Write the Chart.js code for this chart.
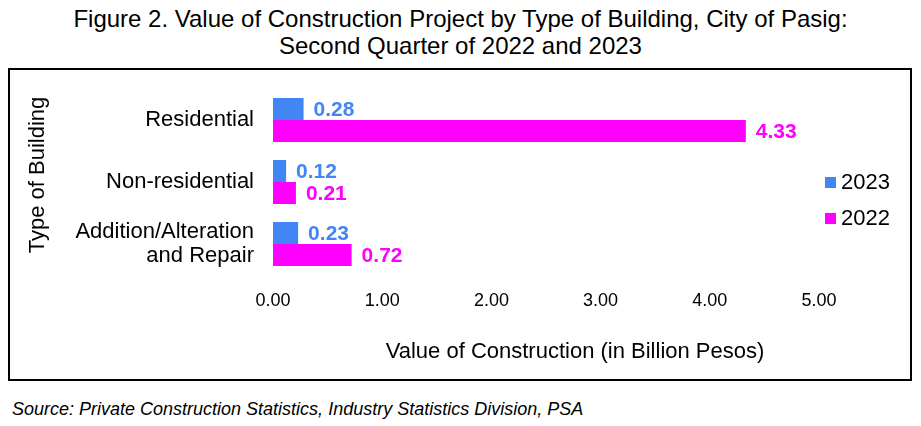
<!DOCTYPE html>
<html>
<head>
<meta charset="utf-8">
<script src="https://cdn.jsdelivr.net/npm/chart.js@4"></script>
<style>
html,body{margin:0;padding:0;width:921px;height:426px;background:#fff;overflow:hidden;font-family:'Liberation Sans',Arial,sans-serif;}
#title{position:absolute;left:0;top:5px;width:921px;text-align:center;font-size:24px;line-height:27px;color:#000;}
#box{position:absolute;left:8px;top:68px;width:900px;height:309px;border:2px solid #000;}
#src{position:absolute;left:12px;top:399px;font-size:18px;font-style:italic;color:#000;}
#c{position:absolute;left:0;top:0;}
</style>
</head>
<body>
<div id="title">Figure 2. Value of Construction Project by Type of Building, City of Pasig:<br>Second Quarter of 2022 and 2023</div>
<div id="box"></div>
<div id="src">Source: Private Construction Statistics, Industry Statistics Division, PSA</div>
<canvas id="c" width="921" height="426"></canvas>
<script>
const categories = ['Residential', 'Non-residential', ['Addition/Alteration', 'and Repair']];
const seriesNames = ['2023', '2022'];
const values2023 = [0.28, 0.12, 0.23];
const values2022 = [4.33, 0.21, 0.72];
const xTicks = [0, 1, 2, 3, 4, 5];
const colors = ['#4285F4', '#FF00FF'];
const FONT = "'Liberation Sans', Arial, sans-serif";

const overlay = {
  id: 'overlay',
  afterDatasetsDraw(chart) {
    const ctx = chart.ctx;
    ctx.save();
    ctx.font = 'bold 21px ' + FONT;
    ctx.textBaseline = 'middle';
    ctx.textAlign = 'left';
    chart.data.datasets.forEach((ds, i) => {
      const meta = chart.getDatasetMeta(i);
      meta.data.forEach((bar, j) => {
        ctx.fillStyle = colors[i];
        ctx.fillText(ds.data[j].toFixed(2), bar.x + 10, bar.y + 1);
      });
    });
    ctx.restore();
  },
  afterDraw(chart) {
    const ctx = chart.ctx;
    const ca = chart.chartArea;
    ctx.save();
    ctx.fillStyle = '#000';
    ctx.font = '22px ' + FONT;
    ctx.textAlign = 'center';
    ctx.textBaseline = 'middle';
    // x axis title
    ctx.fillText('Value of Construction (in Billion Pesos)', ca.left + (ca.right - ca.left) / 2 + 29, ca.bottom + 77);
    // y axis title
    ctx.save();
    ctx.translate(38, (ca.top + ca.bottom) / 2 - 7);
    ctx.rotate(-Math.PI / 2);
    ctx.fillText('Type of Building', 0, 0);
    ctx.restore();
    // legend
    ctx.textAlign = 'left';
    ctx.font = '22px ' + FONT;
    seriesNames.forEach((n, i) => {
      const y = 183 + i * 36;
      ctx.fillStyle = colors[i];
      ctx.fillRect(825, y - 6, 11, 11);
      ctx.fillStyle = '#000';
      ctx.fillText(n, 841, y);
    });
    ctx.restore();
  }
};

new Chart(document.getElementById('c'), {
  type: 'bar',
  data: {
    labels: categories,
    datasets: [
      { label: seriesNames[0], data: values2023, backgroundColor: colors[0] },
      { label: seriesNames[1], data: values2022, backgroundColor: colors[1] }
    ]
  },
  options: {
    indexAxis: 'y',
    responsive: false,
    animation: false,
    events: [],
    layout: { padding: { left: 0, top: 89, right: 102, bottom: 0 } },
    datasets: { bar: { barPercentage: 1.0, categoryPercentage: 0.71 } },
    plugins: { legend: { display: false }, title: { display: false }, tooltip: { enabled: false } },
    scales: {
      x: {
        min: 0, max: 5,
        afterBuildTicks(s) { s.ticks = xTicks.map(v => ({ value: v })); },
        afterFit(s) { s.height = 151; },
        grid: { display: false, drawTicks: false },
        border: { display: false },
        ticks: { padding: 15, color: '#000', font: { family: FONT, size: 18 }, callback: v => Number(v).toFixed(2) }
      },
      y: {
        afterFit(s) { s.width = 273; },
        grid: { display: false, drawTicks: false },
        border: { display: false },
        ticks: { padding: 19, color: '#000', font: { family: FONT, size: 22, lineHeight: 1.1 } }
      }
    }
  },
  plugins: [overlay]
});
</script>
</body>
</html>
